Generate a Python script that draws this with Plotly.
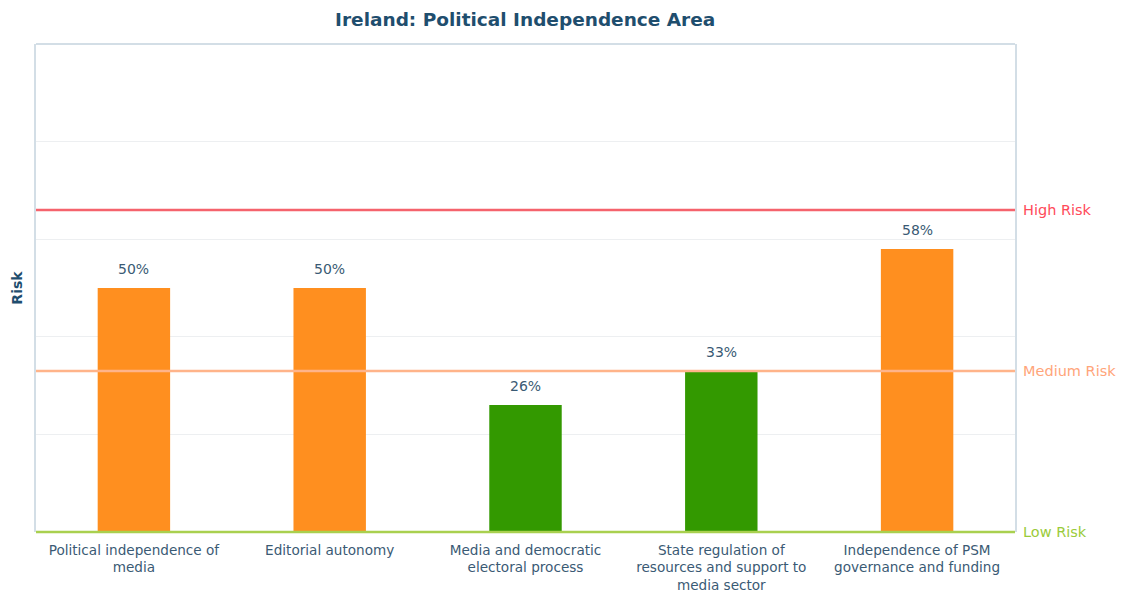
import plotly.graph_objects as go

categories = [
    "Political independence of<br>media",
    "Editorial autonomy",
    "Media and democratic<br>electoral process",
    "State regulation of<br>resources and support to<br>media sector",
    "Independence of PSM<br>governance and funding",
]
values = [50, 50, 26, 33, 58]
bar_colors = ["#FF8F1F", "#FF8F1F", "#339900", "#339900", "#FF8F1F"]
thresholds = [66, 33, 0]
threshold_labels = ["High Risk", "Medium Risk", "Low Risk"]
threshold_line_colors = ["#F5636D", "#FFB48A", "#A9D04F"]
threshold_text_colors = ["#FF4A5A", "#FFA57A", "#9ACB3A"]
y_max = 100

font_family = "DejaVu Sans, Verdana, sans-serif"
dark = "#1F4E6E"
label_col = "#3A5A74"
frame_col = "#D3DEE6"

fig = go.Figure()
fig.add_trace(go.Bar(
    x=list(range(len(categories))),
    y=values,
    marker=dict(color=bar_colors, line=dict(width=0)),
    hoverinfo="skip",
))

shapes = []
annotations = []
# top frame line
shapes.append(dict(type="line", xref="paper", yref="paper", x0=0, x1=1, y0=1, y1=1,
                   line=dict(color=frame_col, width=2), layer="above"))
for t, lab, lc, tc in zip(thresholds, threshold_labels, threshold_line_colors, threshold_text_colors):
    # paper coordinates (axis range is 0..y_max) so the line at 0 is not clipped
    shapes.append(dict(type="line", xref="paper", yref="paper", x0=0, x1=1,
                       y0=t / y_max, y1=t / y_max,
                       line=dict(color=lc, width=2.5), layer="above"))
    annotations.append(dict(xref="paper", yref="y", x=1, y=t, xanchor="left", yanchor="middle",
                            xshift=6, text=lab, showarrow=False,
                            font=dict(family=font_family, size=14.5, color=tc)))
for i, v in enumerate(values):
    annotations.append(dict(xref="x", yref="y", x=i, y=v, xanchor="center", yanchor="middle",
                            yshift=19, text=f"{v}%", showarrow=False,
                            font=dict(family=font_family, size=14, color=label_col)))

fig.update_layout(
    width=1121, height=598,
    margin=dict(l=36, r=106, t=44, b=66),
    paper_bgcolor="white", plot_bgcolor="white",
    title=dict(text="<b>Ireland: Political Independence Area</b>", x=0.4685, xanchor="center",
               y=0.968, yanchor="middle",
               font=dict(family=font_family, size=18.5, color=dark)),
    bargap=0.63,
    showlegend=False,
    xaxis=dict(
        tickmode="array", tickvals=list(range(len(categories))), ticktext=categories,
        tickfont=dict(family=font_family, size=13.6, color=label_col),
        showgrid=False, zeroline=False, showline=False, ticks="", range=[-0.5, 4.5],
        ticklabelstandoff=8, automargin=False,
    ),
    yaxis=dict(
        range=[0, y_max], dtick=20, showticklabels=False, showgrid=True,
        gridcolor="#EDEFF1", gridwidth=1, zeroline=False, showline=True, mirror=True,
        linecolor=frame_col, linewidth=2, ticks="", automargin=False,
        title=dict(text="<b>Risk</b>", standoff=8,
                   font=dict(family=font_family, size=14, color=dark)),
    ),
    shapes=shapes,
    annotations=annotations,
)

fig.write_html("out.html")
